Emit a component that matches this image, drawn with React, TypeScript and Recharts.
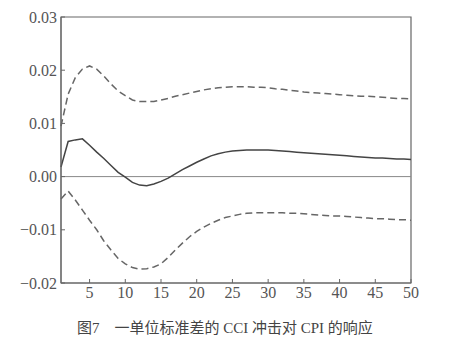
import { LineChart, Line, XAxis, YAxis, ReferenceLine, ReferenceArea } from 'recharts';

const periods = [
    1, 2, 3, 4, 5, 6, 7, 8, 9, 10,
    11, 12, 13, 14, 15, 16, 17, 18, 19, 20,
    21, 22, 23, 24, 25, 26, 27, 28, 29, 30,
    31, 32, 33, 34, 35, 36, 37, 38, 39, 40,
    41, 42, 43, 44, 45, 46, 47, 48, 49, 50
];

const response = [
    0.0018, 0.0066, 0.0069, 0.0071, 0.0059, 0.0046, 0.0034, 0.0021, 0.0008, -0.0001,
    -0.0011, -0.0016, -0.0017, -0.0014, -0.0009, -0.0003, 0.0005, 0.0013, 0.0020, 0.0027,
    0.0033, 0.0039, 0.0043, 0.0046, 0.0048, 0.0049, 0.0050, 0.0050, 0.0050, 0.0050,
    0.0049, 0.0048, 0.0047, 0.0046, 0.0045, 0.0044, 0.0043, 0.0042, 0.0041, 0.0040,
    0.0039, 0.0038, 0.0037, 0.0036, 0.0035, 0.0035, 0.0034, 0.0033, 0.0033, 0.0032
];

const upper = [
    0.0095, 0.0155, 0.0186, 0.0202, 0.0208, 0.0202, 0.0189, 0.0174, 0.0161, 0.0152,
    0.0144, 0.0141, 0.0141, 0.0141, 0.0144, 0.0147, 0.0151, 0.0154, 0.0157, 0.0160,
    0.0163, 0.0165, 0.0167, 0.0168, 0.0169, 0.0169, 0.0169, 0.0168, 0.0168, 0.0167,
    0.0165, 0.0164, 0.0162, 0.0161, 0.0159, 0.0158, 0.0157, 0.0156, 0.0155, 0.0154,
    0.0153, 0.0152, 0.0151, 0.0151, 0.0150, 0.0149, 0.0148, 0.0147, 0.0147, 0.0146
];

const lower = [
    -0.0042, -0.0027, -0.0044, -0.0063, -0.0082, -0.0100, -0.0121, -0.0138, -0.0154, -0.0164,
    -0.0171, -0.0174, -0.0173, -0.0170, -0.0164, -0.0152, -0.0138, -0.0125, -0.0113, -0.0103,
    -0.0095, -0.0088, -0.0082, -0.0077, -0.0074, -0.0071, -0.0069, -0.0068, -0.0068, -0.0068,
    -0.0068, -0.0068, -0.0069, -0.0069, -0.0070, -0.0071, -0.0072, -0.0073, -0.0074, -0.0074,
    -0.0075, -0.0076, -0.0077, -0.0078, -0.0079, -0.0079, -0.0080, -0.0081, -0.0081, -0.0082
];

const xTicks = [5, 10, 15, 20, 25, 30, 35, 40, 45, 50];
const yTicks = [-0.02, -0.01, 0, 0.01, 0.02, 0.03];

const caption = '图7　一单位标准差的 CCI 冲击对 CPI 的响应';

const data = periods.map((t, i) => ({ t, mid: response[i], hi: upper[i], lo: lower[i] }));

const fmt = (v: number) => (v < 0 ? '\u2212' : '') + Math.abs(v).toFixed(2);

const tickStyle = { fontSize: 16, fill: '#555' };

export default function App() {
    return (
        <div
            style={{
                position: 'absolute',
                left: 0,
                top: 0,
                width: 450,
                height: 358,
                background: '#fff',
                fontFamily: '"Liberation Serif", "Times New Roman", serif'
            }}
        >
            <LineChart
                width={450}
                height={358}
                data={data}
                margin={{ top: 17, right: 39, left: 0, bottom: 50 }}
                style={{ fontFamily: '"Liberation Serif", "Times New Roman", serif' }}
            >
                <XAxis
                    dataKey="t"
                    type="number"
                    domain={[1, 50]}
                    ticks={xTicks}
                    height={25}
                    stroke="#666"
                    tickSize={-4}
                    tickMargin={8}
                    tick={tickStyle}
                />
                <YAxis
                    type="number"
                    domain={[-0.02, 0.03]}
                    ticks={yTicks}
                    tickFormatter={fmt}
                    width={61}
                    stroke="#666"
                    tickSize={-4}
                    tickMargin={8}
                    tick={tickStyle}
                />
                <ReferenceArea x1={1} x2={50} y1={-0.02} y2={0.03} fill="none" stroke="#666" strokeWidth={1.2} fillOpacity={0} />
                <ReferenceLine y={0} stroke="#888" strokeWidth={1} />
                <Line type="linear" dataKey="hi" stroke="#666" strokeWidth={1.5} strokeDasharray="7 4" dot={false} isAnimationActive={false} />
                <Line type="linear" dataKey="lo" stroke="#666" strokeWidth={1.5} strokeDasharray="7 4" dot={false} isAnimationActive={false} />
                <Line type="linear" dataKey="mid" stroke="#444" strokeWidth={1.5} dot={false} isAnimationActive={false} />
            </LineChart>
            <div
                style={{
                    position: 'absolute',
                    left: 77,
                    top: 319,
                    fontSize: 15,
                    lineHeight: '18px',
                    color: '#444',
                    whiteSpace: 'nowrap',
                    fontFamily: '"Liberation Serif", "Noto Sans CJK SC", serif'
                }}
            >
                {caption}
            </div>
        </div>
    );
}
